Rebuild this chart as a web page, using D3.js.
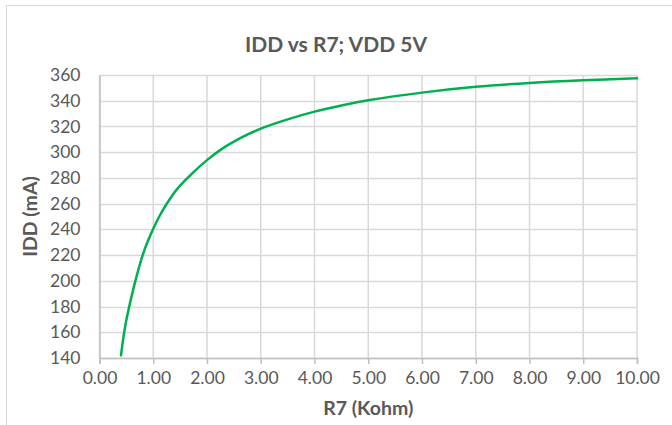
<!DOCTYPE html>
<html lang="en">
<head>
    <meta charset="UTF-8">
    <title>IDD vs R7</title>
    <script src="https://cdn.jsdelivr.net/npm/d3@7"></script>
    <style>
        body { margin: 0; background: #fff; }
        text { font-family: Lato, "Open Sans", sans-serif; fill: #595959; }
    </style>
</head>
<body>
<svg width="672" height="425"></svg>
<script type="text/javascript">
    // values
    var r7 = [0.40, 0.45, 0.50, 0.60, 0.70, 0.80, 0.90, 1.00, 1.10, 1.20, 1.30, 1.40, 1.50,
              1.75, 2.00, 2.25, 2.50, 2.75, 3.00, 3.50, 4.00, 4.50, 5.00,
              6.00, 7.00, 8.00, 9.00, 10.00];
    var idd = [142, 157.5, 169.5, 188.5, 205, 219.5, 231, 240.5, 249, 256.5, 263, 269, 274,
               284.5, 293.8, 301.8, 308.2, 313.6, 318.3, 325.5, 331.5, 336.3, 340.3,
               346.3, 350.8, 353.8, 355.9, 357.4];
    var xTicks = [0, 1, 2, 3, 4, 5, 6, 7, 8, 9, 10];
    var yTicks = [140, 160, 180, 200, 220, 240, 260, 280, 300, 320, 340, 360];

    var svg = d3.select("svg");
    var marge = {top: 75, left: 99.5, right: 35, bottom: 67};
    var width = svg.attr("width") - marge.left - marge.right;
    var height = svg.attr("height") - marge.top - marge.bottom;

    // chart frame
    svg.append("rect")
        .attr("x", 6.5).attr("y", 5.5)
        .attr("width", 700).attr("height", 500)
        .attr("fill", "none")
        .attr("stroke", "#d9d9d9");

    var g = svg.append("g")
        .attr("transform", "translate(" + marge.left + "," + marge.top + ")");

    var xScale = d3.scaleLinear().domain([0, 10]).range([0, width]);
    var yScale = d3.scaleLinear().domain([140, 360]).range([height, 0]);

    // gridlines
    g.append("g").selectAll("line")
        .data(yTicks)
        .enter().append("line")
        .attr("x1", 0).attr("x2", width)
        .attr("y1", function (d) { return Math.round(yScale(d)) + 0.5; })
        .attr("y2", function (d) { return Math.round(yScale(d)) + 0.5; })
        .attr("stroke", "#d9d9d9").attr("stroke-width", 1.5);
    g.append("g").selectAll("line")
        .data(xTicks)
        .enter().append("line")
        .attr("x1", function (d) { return xScale(d); })
        .attr("x2", function (d) { return xScale(d); })
        .attr("y1", 0).attr("y2", height)
        .attr("stroke", "#d9d9d9").attr("stroke-width", 1.5);

    // x axis
    var xAxis = d3.axisBottom(xScale)
        .tickValues(xTicks)
        .tickFormat(d3.format(".2f"))
        .tickSize(6)
        .tickPadding(8);
    var gx = g.append("g")
        .attr("transform", "translate(0," + height + ")")
        .call(xAxis);
    gx.select(".domain").attr("stroke", "#bfbfbf").attr("stroke-width", 1.5);
    gx.selectAll(".tick line").attr("stroke", "#bfbfbf").attr("stroke-width", 1.5);
    gx.selectAll("text").style("font-size", "17.5px").attr("fill", "#595959");

    // y axis
    var yAxis = d3.axisLeft(yScale)
        .tickValues(yTicks)
        .tickSize(0)
        .tickPadding(19);
    var gy = g.append("g").call(yAxis);
    gy.select(".domain").attr("stroke", "#bfbfbf").attr("stroke-width", 1.5);
    gy.selectAll("text").style("font-size", "17.5px").attr("fill", "#595959");

    // curve
    var line = d3.line()
        .x(function (d, i) { return xScale(r7[i]); })
        .y(function (d) { return yScale(d); })
        .curve(d3.curveCatmullRom.alpha(0.5));
    g.append("path")
        .datum(idd)
        .attr("d", line)
        .attr("fill", "none")
        .attr("stroke", "#00b050")
        .attr("stroke-width", 2.5)
        .attr("stroke-linecap", "round");

    // titles
    svg.append("text")
        .attr("x", 336).attr("y", 52)
        .attr("text-anchor", "middle")
        .style("font-size", "21px").style("font-weight", "bold")
        .text("IDD vs R7; VDD 5V");
    svg.append("text")
        .attr("x", marge.left + width / 2).attr("y", 415)
        .attr("text-anchor", "middle")
        .style("font-size", "19.5px").style("font-weight", "bold")
        .text("R7 (Kohm)");
    svg.append("text")
        .attr("transform", "translate(37," + (marge.top + height / 2) + ") rotate(-90)")
        .attr("text-anchor", "middle")
        .style("font-size", "19.5px").style("font-weight", "bold")
        .text("IDD (mA)");
</script>
</body>
</html>
